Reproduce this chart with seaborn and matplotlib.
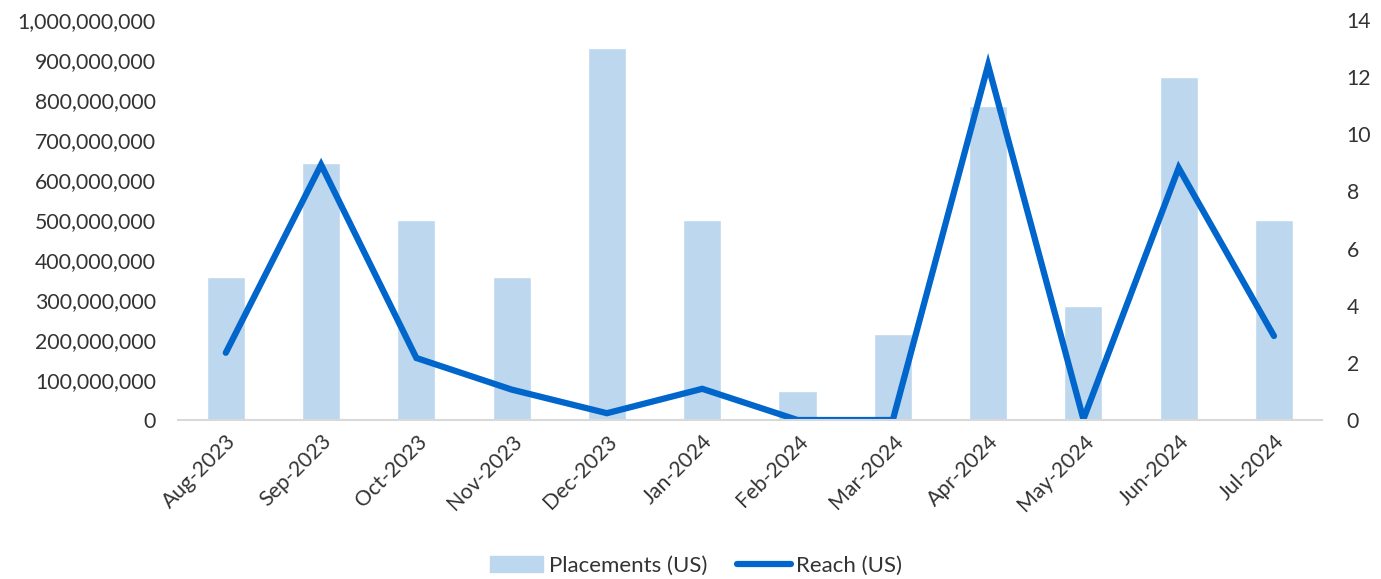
import matplotlib
matplotlib.use("Agg")
import matplotlib.pyplot as plt
import matplotlib.ticker as mticker
import numpy as np
import pandas as pd
import seaborn as sns

months = ["Aug-2023", "Sep-2023", "Oct-2023", "Nov-2023", "Dec-2023", "Jan-2024",
          "Feb-2024", "Mar-2024", "Apr-2024", "May-2024", "Jun-2024", "Jul-2024"]
placements = [5, 9, 7, 5, 13, 7, 1, 3, 11, 4, 12, 7]
reach = [168e6, 638e6, 155e6, 76e6, 17e6, 78e6, 0, 0, 887e6, 2e6, 630e6, 210e6]

sns.set_style("white")
plt.rcParams["font.family"] = ["Lato", "DejaVu Sans"]

TEXT = "#333333"
BAR = "#BDD7EE"
LINE = "#0066CC"
FS = 15.3

df = pd.DataFrame({"month": months, "placements": placements,
                   "reach": reach, "pos": np.arange(len(months))})

fig = plt.figure(figsize=(13.81, 5.79), dpi=100)
ax = fig.add_axes([0.129, 0.2746, 0.828, 0.691])
ax2 = ax.twinx()

# Placements as bars on the secondary (right) axis
sns.barplot(data=df, x="pos", y="placements", ax=ax2, color=BAR,
            width=0.4, saturation=1, native_scale=True)
# Reach as a line on the primary (left) axis, drawn above the bars
sns.lineplot(data=df, x="pos", y="reach", ax=ax, color=LINE, linewidth=4.5,
             solid_capstyle="round", solid_joinstyle="miter")
ax.set_zorder(ax2.get_zorder() + 1)
ax.patch.set_visible(False)

ax.set_xlim(-0.5, len(months) - 0.5)
ax.set_ylim(0, 1e9)
ax2.set_ylim(0, 14)
ax.yaxis.set_major_locator(mticker.MultipleLocator(1e8))
ax.yaxis.set_major_formatter(mticker.FuncFormatter(lambda v, p: f"{v:,.0f}"))
ax2.yaxis.set_major_locator(mticker.MultipleLocator(2))

ax.set_xticks(df["pos"])
ax.set_xticklabels(months, rotation=45, ha="right", rotation_mode="anchor")

for a in (ax, ax2):
    a.set_xlabel("")
    a.set_ylabel("")
    for s in a.spines.values():
        s.set_visible(False)
    a.tick_params(axis="both", length=0, labelsize=FS, colors=TEXT)
ax.tick_params(axis="y", pad=16)
ax2.tick_params(axis="y", pad=18)
ax.tick_params(axis="x", pad=8)
ax.spines["bottom"].set_visible(True)
ax.spines["bottom"].set_color("#D9D9D9")
ax.spines["bottom"].set_linewidth(1.5)

handles = [plt.Rectangle((0, 0), 1, 1, color=BAR),
           plt.Line2D([0], [0], color=LINE, linewidth=4.5, solid_capstyle="round")]
fig.legend(handles, ["Placements (US)", "Reach (US)"], loc="center",
           bbox_to_anchor=(0.504, 0.0225), ncol=2, frameon=False,
           fontsize=16, labelcolor=TEXT, handlelength=2.4, handletextpad=0.25,
           columnspacing=1.35)

fig.savefig("out.png", dpi=100)
